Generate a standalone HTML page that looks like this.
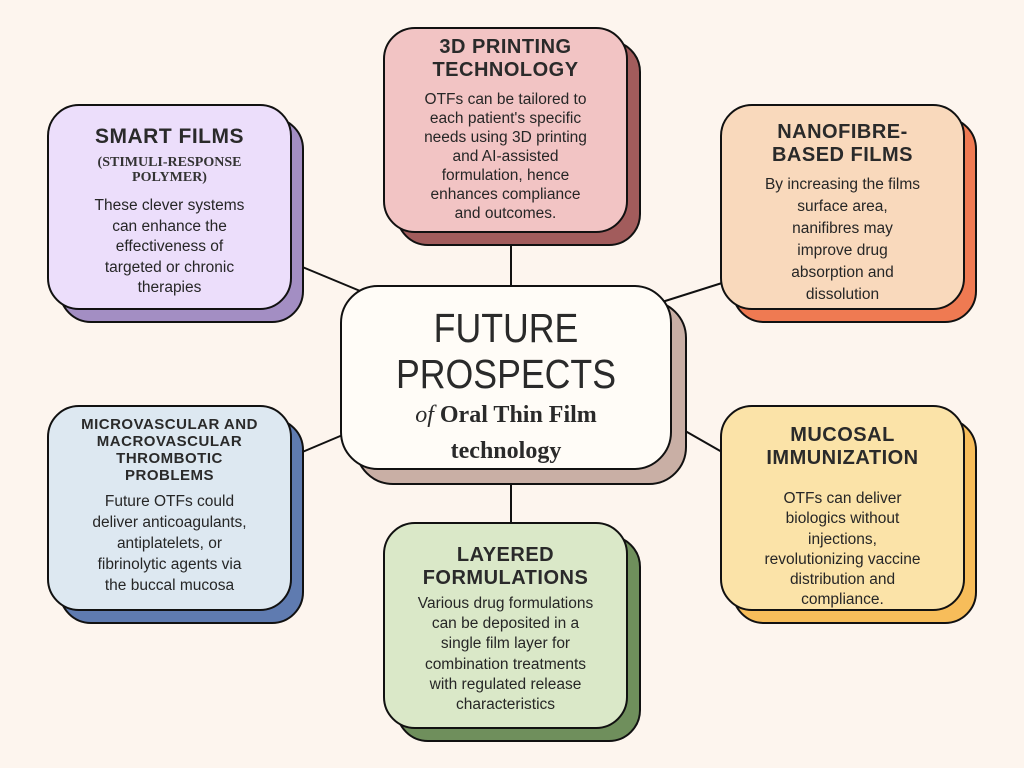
<!DOCTYPE html>
<html><head><meta charset="utf-8"><style>
body{margin:0;width:1024px;height:768px;background:#fdf5ee;position:relative;overflow:hidden;font-family:"Liberation Sans","DejaVu Sans",sans-serif;color:#222}
.b{position:absolute;border:2px solid #111;border-radius:32px;box-sizing:border-box}
.t{position:absolute;text-align:center;color:#262626}
.h{font-weight:bold;font-size:20px;line-height:23px;letter-spacing:0.5px;color:#2a2a2a}
.p{font-size:15.5px}
svg{position:absolute;left:0;top:0}
</style></head><body>
<svg width="1024" height="768"><g stroke="#111" stroke-width="2">
<line x1="511" y1="233" x2="511" y2="290"/>
<line x1="511" y1="470" x2="511" y2="524"/>
<line x1="300" y1="266" x2="365" y2="293"/>
<line x1="662" y1="302" x2="722" y2="283"/>
<line x1="300" y1="453" x2="345" y2="434"/>
<line x1="680" y1="428" x2="722" y2="452"/>
</g></svg>

<!-- center -->
<div class="b" style="left:355px;top:300px;width:332px;height:185px;background:#c9afa5;border-radius:38px"></div>
<div class="b" style="left:340px;top:285px;width:332px;height:185px;background:#fffcf7;border-radius:38px"></div>
<div class="t" style="left:340px;top:305px;width:332px;font-size:41px;line-height:46px;font-weight:300;color:#2a2a2a;transform:scaleX(0.87)">FUTURE<br>PROSPECTS</div>
<div class="t" style="left:340px;top:397px;width:332px;font-family:'Liberation Serif',serif;font-weight:bold;font-size:24px;line-height:36px;color:#2a2a2a"><i style="font-weight:normal">of</i> Oral Thin Film<br>technology</div>

<!-- top -->
<div class="b" style="left:396px;top:40px;width:245px;height:206px;background:#a25c5c"></div>
<div class="b" style="left:383px;top:27px;width:245px;height:206px;background:#f2c4c4"></div>
<div class="t h" style="left:383px;top:36px;width:245px">3D PRINTING<br>TECHNOLOGY</div>
<div class="t p" style="left:388px;top:90px;width:235px;line-height:19px">OTFs can be tailored to<br>each patient's specific<br>needs using 3D printing<br>and AI-assisted<br>formulation, hence<br>enhances compliance<br>and outcomes.</div>

<!-- smart films -->
<div class="b" style="left:59px;top:117px;width:245px;height:206px;background:#a38ec3"></div>
<div class="b" style="left:47px;top:104px;width:245px;height:206px;background:#ecdefb"></div>
<div class="t h" style="left:47px;top:125px;width:245px;font-size:21px">SMART FILMS</div>
<div class="t" style="left:47px;top:155px;width:245px;font-family:'Liberation Serif',serif;font-weight:bold;font-size:14px;line-height:15px;color:#333">(STIMULI-RESPONSE<br>POLYMER)</div>
<div class="t p" style="left:52px;top:196px;width:235px;line-height:20.5px">These clever systems<br>can enhance the<br>effectiveness of<br>targeted or chronic<br>therapies</div>

<!-- nanofibre -->
<div class="b" style="left:732px;top:117px;width:245px;height:206px;background:#ef7a52"></div>
<div class="b" style="left:720px;top:104px;width:245px;height:206px;background:#f9d9bc"></div>
<div class="t h" style="left:720px;top:121px;width:245px">NANOFIBRE-<br>BASED FILMS</div>
<div class="t p" style="left:725px;top:174px;width:235px;line-height:22px">By increasing the films<br>surface area,<br>nanifibres may<br>improve drug<br>absorption and<br>dissolution</div>

<!-- microvascular -->
<div class="b" style="left:59px;top:418px;width:245px;height:206px;background:#5f7bb0"></div>
<div class="b" style="left:47px;top:405px;width:245px;height:206px;background:#dde8f1"></div>
<div class="t h" style="left:47px;top:416px;width:245px;font-size:15px;line-height:17px">MICROVASCULAR AND<br>MACROVASCULAR<br>THROMBOTIC<br>PROBLEMS</div>
<div class="t p" style="left:52px;top:491px;width:235px;line-height:21px">Future OTFs could<br>deliver anticoagulants,<br>antiplatelets, or<br>fibrinolytic agents via<br>the buccal mucosa</div>

<!-- mucosal -->
<div class="b" style="left:732px;top:418px;width:245px;height:206px;background:#f7bd5a"></div>
<div class="b" style="left:720px;top:405px;width:245px;height:206px;background:#fbe3a8"></div>
<div class="t h" style="left:720px;top:424px;width:245px">MUCOSAL<br>IMMUNIZATION</div>
<div class="t p" style="left:725px;top:489px;width:235px;line-height:20.3px">OTFs can deliver<br>biologics without<br>injections,<br>revolutionizing vaccine<br>distribution and<br>compliance.</div>

<!-- layered -->
<div class="b" style="left:396px;top:535px;width:245px;height:207px;background:#6f8f5c"></div>
<div class="b" style="left:383px;top:522px;width:245px;height:207px;background:#dae8c8"></div>
<div class="t h" style="left:383px;top:544px;width:245px">LAYERED<br>FORMULATIONS</div>
<div class="t p" style="left:388px;top:594px;width:235px;line-height:20.2px">Various drug formulations<br>can be deposited in a<br>single film layer for<br>combination treatments<br>with regulated release<br>characteristics</div>
</body></html>
